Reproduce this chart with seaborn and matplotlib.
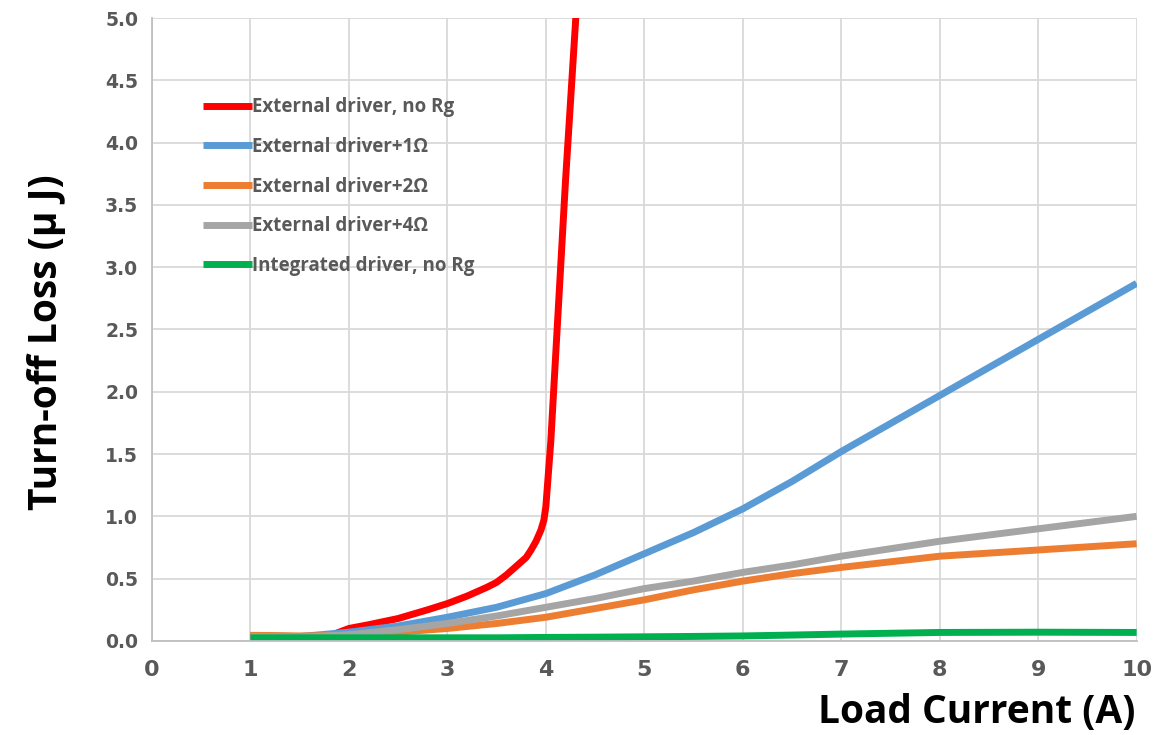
import matplotlib
matplotlib.use("Agg")
import matplotlib.pyplot as plt
import seaborn as sns
import pandas as pd

# ---- data ----
x_red = [1.0, 1.5, 1.8, 2.0, 2.2, 2.5, 2.8, 3.0, 3.2, 3.4, 3.5, 3.6, 3.7, 3.8,
         3.85, 3.9, 3.95, 3.98, 4.0, 4.05, 4.1, 4.2, 4.3, 4.35]
y_red = [0.04, 0.035, 0.04, 0.10, 0.13, 0.18, 0.25, 0.30, 0.36, 0.43, 0.47, 0.53,
         0.60, 0.67, 0.73, 0.80, 0.89, 0.97, 1.08, 1.6, 2.3, 3.7, 4.95, 5.6]

x_std = [1, 1.5, 2, 2.5, 3, 3.5, 4, 4.5, 5, 5.5, 6, 6.5, 7, 8, 9, 10]
y_blue = [0.04, 0.035, 0.07, 0.12, 0.19, 0.27, 0.38, 0.53, 0.70, 0.87, 1.06, 1.28,
          1.52, 1.97, 2.42, 2.87]
y_orange = [0.045, 0.04, 0.045, 0.07, 0.10, 0.14, 0.19, 0.26, 0.33, 0.41, 0.48, 0.54,
            0.59, 0.68, 0.73, 0.78]
y_gray = [0.035, 0.03, 0.05, 0.09, 0.14, 0.20, 0.27, 0.34, 0.42, 0.48, 0.55, 0.61,
          0.68, 0.80, 0.90, 1.00]
y_green = [0.025, 0.025, 0.025, 0.025, 0.025, 0.025, 0.028, 0.030, 0.033, 0.036, 0.040,
           0.047, 0.055, 0.068, 0.070, 0.068]

labels = ["External driver, no Rg", "External driver+1Ω", "External driver+2Ω",
          "External driver+4Ω", "Integrated driver, no Rg"]
colors = ["#FF0000", "#5B9BD5", "#ED7D31", "#A5A5A5", "#00B050"]

x_ticks = list(range(0, 11))
y_ticks = [0.0, 0.5, 1.0, 1.5, 2.0, 2.5, 3.0, 3.5, 4.0, 4.5, 5.0]

frames = [
    pd.DataFrame({"x": x_red, "y": y_red, "s": labels[0]}),
    pd.DataFrame({"x": x_std, "y": y_blue, "s": labels[1]}),
    pd.DataFrame({"x": x_std, "y": y_orange, "s": labels[2]}),
    pd.DataFrame({"x": x_std, "y": y_gray, "s": labels[3]}),
    pd.DataFrame({"x": x_std, "y": y_green, "s": labels[4]}),
]
df = pd.concat(frames, ignore_index=True)

sns.set_style("white")
plt.rcParams["font.family"] = ["DejaVu Sans"]

fig = plt.figure(figsize=(11.73, 7.35), dpi=100)
ax = fig.add_axes([0.1296, 0.128, 0.8394, 0.8475])

sns.lineplot(data=df, x="x", y="y", hue="s", hue_order=labels,
             palette=dict(zip(labels, colors)), linewidth=5.0, ax=ax,
             sort=False, estimator=None, solid_capstyle="butt",
             solid_joinstyle="round")

ax.set_xlim(0, 10)
ax.set_ylim(0, 5)
ax.set_xticks(x_ticks)
ax.set_yticks(y_ticks)
ax.set_yticklabels([f"{v:.1f}" for v in y_ticks])
ax.grid(True, color="#D9D9D9", linewidth=1.3)
ax.set_axisbelow(True)
for side in ["top", "right"]:
    ax.spines[side].set_visible(False)
for side in ["left", "bottom"]:
    ax.spines[side].set_color("#BFBFBF")
    ax.spines[side].set_linewidth(1.3)

ax.tick_params(axis="both", length=0)
ax.tick_params(axis="x", pad=14)
ax.tick_params(axis="y", pad=10)
for t in ax.get_xticklabels():
    t.set_fontfamily(["Liberation Sans Narrow", "DejaVu Sans"])
    t.set_fontweight("bold")
    t.set_fontsize(16)
    t.set_color("#595959")
for t in ax.get_yticklabels():
    t.set_fontfamily(["DejaVu Sans"])
    t.set_fontweight("bold")
    t.set_fontsize(13.5)
    t.set_color("#595959")

ax.set_xlabel("")
ax.set_ylabel("")
fig.text(0.040, 0.535, "Turn-off Loss (μ J)", ha="center", va="center", rotation=90,
         fontsize=28, fontweight="bold", family=["Open Sans", "DejaVu Sans"],
         color="black")
fig.text(0.968, 0.030, "Load Current (A)", ha="right", va="center",
         fontsize=28, fontweight="bold", family=["Open Sans", "DejaVu Sans"],
         color="black")

leg = ax.legend(loc="upper left", bbox_to_anchor=(0.035, 0.9), frameon=False,
                handlelength=2.6, handletextpad=0.0, labelspacing=1.05,
                prop={"family": ["Open Sans", "DejaVu Sans"], "weight": "bold", "size": 13.5})
for t in leg.get_texts():
    t.set_color("#595959")
for l in leg.get_lines():
    l.set_linewidth(5.0)

fig.savefig("out.png", dpi=100)
